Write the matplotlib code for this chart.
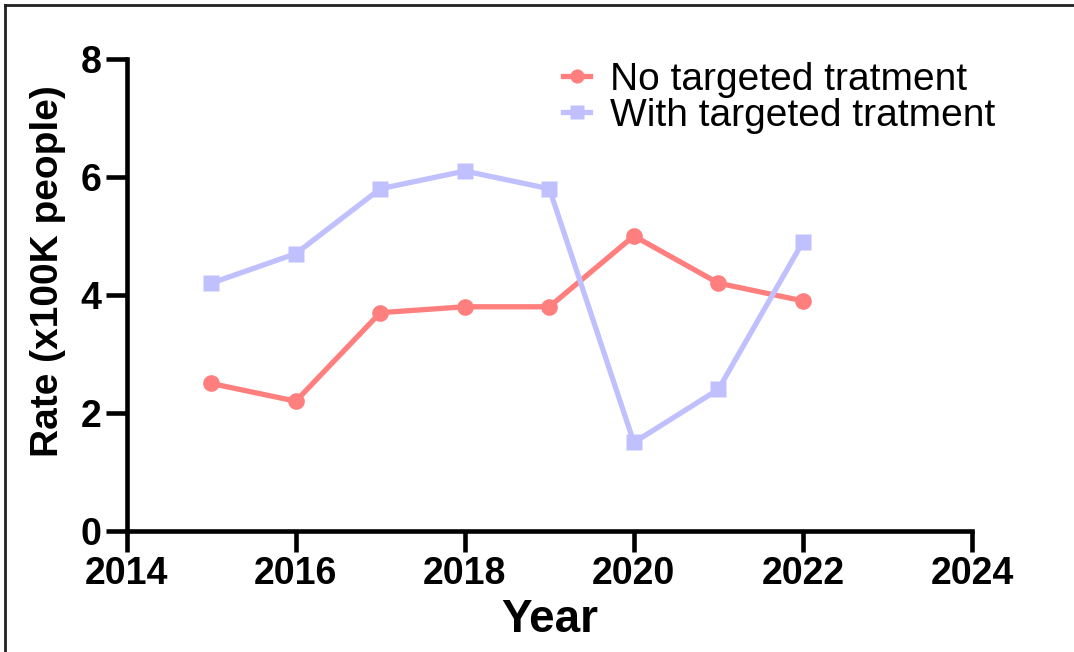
import matplotlib
matplotlib.use("Agg")
import matplotlib.pyplot as plt
from matplotlib.lines import Line2D

plt.rcParams['font.family'] = ['Liberation Sans', 'DejaVu Sans']

years = [2015, 2016, 2017, 2018, 2019, 2020, 2021, 2022]
no_targeted = [2.5, 2.2, 3.7, 3.8, 3.8, 5.0, 4.2, 3.9]
with_targeted = [4.2, 4.7, 5.8, 6.1, 5.8, 1.5, 2.4, 4.9]
series_names = ['No targeted tratment', 'With targeted tratment']
x_ticks = [2014, 2016, 2018, 2020, 2022, 2024]
y_ticks = [0, 2, 4, 6, 8]

fig = plt.figure(figsize=(10.74, 6.52), dpi=100)
ax = fig.add_axes([0.118, 0.1856, 0.787, 0.724])

ax.plot(years, no_targeted, color='#FF7F7F', lw=3.8, marker='o', ms=12,
        mec='none', label=series_names[0], clip_on=False)
ax.plot(years, with_targeted, color='#C0C0FF', lw=3.8, marker='s', ms=12,
        mec='none', label=series_names[1], clip_on=False)

ax.set_xlim(2014, 2024)
ax.set_ylim(0, 8)
ax.set_xticks(x_ticks)
ax.set_yticks(y_ticks)

for s in ['top', 'right']:
    ax.spines[s].set_visible(False)
for s in ['left', 'bottom']:
    ax.spines[s].set_linewidth(3.3)
ax.tick_params(axis='both', length=15, width=3.3, labelsize=27, pad=3)
for lab in ax.get_xticklabels() + ax.get_yticklabels():
    lab.set_fontweight('bold')

ax.set_xlabel('Year', fontsize=33, fontweight='bold', labelpad=4)
ax.set_ylabel('Rate (x100K people)', fontsize=28, fontweight='bold')
ax.yaxis.set_label_coords(-0.072, 0.55)

ax.legend(loc='upper left', bbox_to_anchor=(0.475, 1.068), frameon=False,
          fontsize=28, handlelength=0.7, handletextpad=0.5,
          labelspacing=0.0, markerscale=0.85)

# frame lines at the top and left edge of the picture
fig.add_artist(Line2D([0.005, 0.005], [0, 0.992], transform=fig.transFigure,
                      color='#222222', lw=2))
fig.add_artist(Line2D([0.005, 1.0], [0.992, 0.992], transform=fig.transFigure,
                      color='#222222', lw=2))

fig.savefig('out.png', dpi=100)
